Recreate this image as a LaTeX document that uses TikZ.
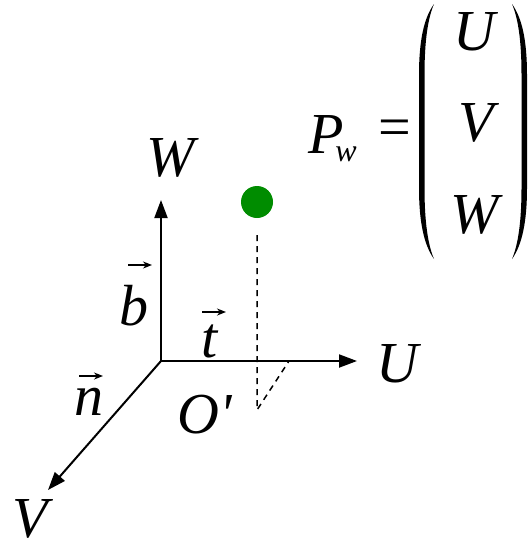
\documentclass[tikz,border=0pt]{standalone}
\usepackage{fontspec}
\setmainfont{LiberationSerif}[Extension=.ttf,UprightFont=*-Regular,ItalicFont=*-Italic]
\usetikzlibrary{arrows.meta,calc}
\definecolor{dotgreen}{RGB}{0,140,0}
\begin{document}
\begin{tikzpicture}[x=1pt,y=-1pt,
  lbl/.style={inner sep=0pt,anchor=base,font=\fontsize{58}{60}\selectfont\itshape},
  sublbl/.style={inner sep=0pt,anchor=base,font=\fontsize{32}{34}\selectfont\itshape},
  axistip/.style={line width=2pt,-{Triangle[length=18pt,width=13pt]}},
  axispair/.style={line width=2pt,{Triangle[length=18pt,width=13pt]}-{Triangle[length=18pt,width=13pt]}},
  vecarr/.style={line width=1.6pt,-{Stealth[length=9pt,width=7pt]}},
  projline/.style={line width=1.5pt,dash pattern=on 6pt off 5pt},
  paren/.style={fill=black,draw=none}]
\useasboundingbox (0,0) rectangle (528,541);
% axes
\coordinate (O) at (161,361);
\coordinate (Wt) at (161,200);
\coordinate (Ut) at (357,361);
\coordinate (Vt) at (48,490);
\draw[axispair,line join=miter] (Wt) -- (O) -- (Ut);
\draw[axistip] (O) -- (Vt);
% point and projection
\node[circle,fill=dotgreen,minimum size=32pt,inner sep=0pt] (pt) at (257,202) {};
\coordinate (pb) at (257,410);
\coordinate (pu) at (289,361);
\draw[projline] ($(pt.south)+(0,17)$) -- (pb) -- (pu);
% axis labels
\node[lbl] (Wl) at (171,176) {W};
\node[lbl] (Ul) at (397,382) {U};
\node[lbl,text depth=0pt] (Vl) at (30,537) {V};
\node[lbl] (Ol) at (205,433) {O\textquotesingle};
\node[lbl] (bl) at (134,325) {b};
\draw[vecarr] ($(bl.base)+(-6,-60)$) -- ++(24,0);
\node[lbl] (tl) at (210,357) {t};
\draw[vecarr] ($(tl.base)+(-8,-45)$) -- ++(24,0);
\node[lbl] (nl) at (89,415) {n};
\draw[vecarr] ($(nl.base)+(-10,-39)$) -- ++(24,0);
% P_w = (U V W)
\node[lbl] (Pl) at (326,153) {P};
\node[sublbl] (wl) at (346,161) {w};
\node[inner sep=0pt,anchor=base,font=\fontsize{58}{60}\selectfont] (eq) at (395,146) {=};
\node[lbl] (mu) at (474,50) {U};
\node[lbl] (mv) at (476,141) {V};
\node[lbl] (mw) at (475,233) {W};
\fill[paren] (434,4) .. controls (424,18) and (419,40) .. (419,75) -- (419,188)
  .. controls (419,222) and (424,245) .. (434,259)
  .. controls (428,245) and (424.5,222) .. (424.5,188) -- (424.5,75)
  .. controls (424.5,40) and (428,18) .. (434,4) -- cycle;
\fill[paren] (512,4) .. controls (522,18) and (527,40) .. (527,75) -- (527,188)
  .. controls (527,222) and (522,245) .. (512,259)
  .. controls (518,245) and (521.5,222) .. (521.5,188) -- (521.5,75)
  .. controls (521.5,40) and (518,18) .. (512,4) -- cycle;
\end{tikzpicture}
\end{document}
